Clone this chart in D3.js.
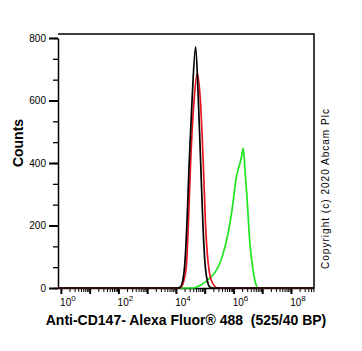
<!DOCTYPE html>
<html>
<head>
<meta charset="utf-8">
<script src="https://cdn.jsdelivr.net/npm/d3@7"></script>
<style>
  body{margin:0;background:#fff;}
  svg{display:block;font-family:Arial,"Liberation Sans",sans-serif;}
</style>
</head>
<body>
<div id="chart"></div>
<script>
// histogram outlines, x as log10(intensity), y as counts
const blackX = [-0.1, 4.05, 4.14, 4.24, 4.31, 4.38, 4.46, 4.56, 4.685, 4.78, 4.86, 4.94, 5.01, 5.1, 5.18, 5.3, 8.8];
const blackY = [0, 0, 2, 25, 80, 200, 400, 600, 772, 600, 400, 200, 80, 20, 3, 0, 0];

const redX = [-0.1, 4.1, 4.17, 4.28, 4.37, 4.43, 4.51, 4.63, 4.74, 4.85, 4.95, 5.03, 5.12, 5.25, 5.46, 8.8];
const redY = [0, 0, 2, 25, 80, 200, 400, 600, 687, 600, 400, 200, 80, 20, 0, 0];

const greenX = [-0.1, 4.6, 4.83, 5.01, 5.18, 5.36, 5.53, 5.7, 5.88, 5.98, 6.09, 6.16, 6.23, 6.28, 6.34, 6.4, 6.47, 6.57, 6.68, 6.77, 6.85, 8.8];
const greenY = [0, 0, 8, 18, 32, 50, 80, 130, 208, 270, 350, 378, 400, 420, 447, 380, 291, 144, 58, 15, 0, 0];

const yTicks = [0, 200, 400, 600, 800];
const xDecades = [0, 1, 2, 3, 4, 5, 6, 7, 8];
const xLabelDecades = [0, 2, 4, 6, 8];

const opt = {width:362, height:351, left:58, right:314, top:34, bottom:288};

const x = d3.scaleLinear().domain([-0.1, 8.8]).range([opt.left, opt.right]);
const y = d3.scaleLinear().domain([0, 800]).range([opt.bottom, opt.top + 4]);

const svg = d3.select("#chart").append("svg")
  .attr("width", opt.width)
  .attr("height", opt.height);

// frame top + right
svg.append("path")
  .attr("d", `M${opt.left},${opt.top}H${opt.right}V${opt.bottom}`)
  .attr("fill", "none").attr("stroke", "#000").attr("stroke-width", 1.5);

// y axis
const yMinor = d3.range(0, 800.1, 200 / 3);
svg.append("g")
  .attr("transform", `translate(${opt.left},0)`)
  .call(d3.axisLeft(y).tickValues(yMinor).tickSize(5).tickFormat(""))
  .call(g => g.select(".domain").remove())
  .selectAll("line").attr("stroke", "#000").attr("stroke-width", 1.3);
const yAxis = svg.append("g")
  .attr("transform", `translate(${opt.left},0)`)
  .call(d3.axisLeft(y).tickValues(yTicks).tickSize(9).tickPadding(3).tickSizeOuter(0));
yAxis.select(".domain").attr("stroke-width", 1.5);
yAxis.selectAll("line").attr("stroke-width", 2);
yAxis.selectAll("text").attr("font-size", 10).attr("font-family", "Arial,'Liberation Sans',sans-serif");

// x axis
const xMinor = [];
xDecades.forEach(d => { for (let k = 2; k <= 9; k++) xMinor.push(d + Math.log10(k)); });
svg.append("g")
  .attr("transform", `translate(0,${opt.bottom})`)
  .call(d3.axisBottom(x).tickValues(xMinor.filter(v => v < 8.8)).tickSize(4).tickFormat(""))
  .call(g => g.select(".domain").remove())
  .selectAll("line").attr("stroke-width", 1);
const xAxis = svg.append("g")
  .attr("transform", `translate(0,${opt.bottom})`)
  .call(d3.axisBottom(x).tickValues(xDecades).tickSize(6).tickFormat("").tickSizeOuter(0));
xAxis.select(".domain").attr("stroke-width", 1.5);
xAxis.selectAll("line").attr("stroke-width", 2);

const xl = svg.append("g").selectAll("text")
  .data(xLabelDecades).enter().append("text")
  .attr("x", d => x(d) + 7)
  .attr("y", 306)
  .attr("text-anchor", "middle")
  .attr("font-size", 10);
xl.append("tspan").text("10");
xl.append("tspan").attr("dy", -5).attr("font-size", 8).text(d => d);

// curves
const line = d3.line().x(d => x(d[0])).y(d => y(d[1])).curve(d3.curveMonotoneX);
const series = [
  {xs: greenX, ys: greenY, color: "#1ee61e"},
  {xs: redX, ys: redY, color: "#e8141e"},
  {xs: blackX, ys: blackY, color: "#000"}
];
series.forEach(s => {
  svg.append("path")
    .datum(s.xs.map((v, i) => [v, s.ys[i]]))
    .attr("d", line)
    .attr("fill", "none")
    .attr("stroke", s.color)
    .attr("stroke-width", 1.7);
});

// titles
svg.append("text")
  .attr("transform", "translate(23,143) rotate(-90)")
  .attr("text-anchor", "middle")
  .attr("font-size", 14).attr("font-weight", "bold")
  .text("Counts");

svg.append("text")
  .attr("x", 186).attr("y", 325)
  .attr("text-anchor", "middle")
  .attr("font-size", 14).attr("font-weight", "bold")
  .style("white-space", "pre")
  .text("Anti-CD147- Alexa Fluor® 488  (525/40 BP)");

svg.append("text")
  .attr("transform", "translate(329,189) rotate(-90)")
  .attr("text-anchor", "middle")
  .attr("font-size", 10)
  .attr("textLength", 160)
  .attr("lengthAdjust", "spacing")
  .text("Copyright (c) 2020 Abcam Plc");
</script>
</body>
</html>
